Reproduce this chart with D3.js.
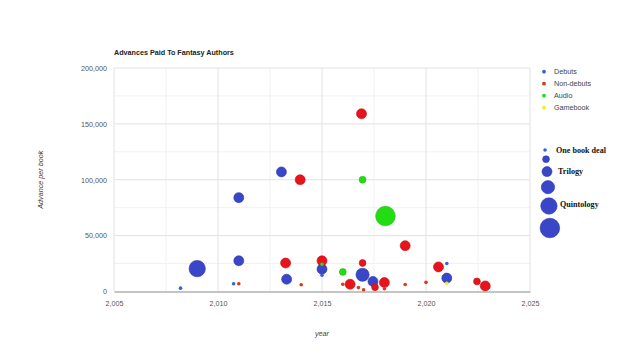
<!DOCTYPE html>
<html><head><meta charset="utf-8">
<script src="https://cdn.jsdelivr.net/npm/d3@7/dist/d3.min.js"></script>
<style>html,body{margin:0;padding:0;background:#fff;}svg{display:block;font-family:"Liberation Sans",Arial,sans-serif;}</style>
</head><body>
<svg id="c" width="640" height="358"></svg>
<script>
// ---- data ----
const seriesNames = ["Debuts", "Non-debuts", "Audio", "Gamebook"];
// each point: [year, advance per book, books in deal]
const debuts = [
  [2008.2, 3000, 1], [2009.0, 20500, 5], [2010.75, 7000, 1], [2011.0, 27500, 3],
  [2011.0, 84000, 3], [2013.05, 107000, 3], [2013.3, 11000, 3], [2015.0, 20000, 3],
  [2015.0, 14500, 1], [2016.95, 15000, 4], [2017.45, 9000, 3], [2021.0, 25000, 1],
  [2021.0, 12000, 3]
];
const nonDebuts = [
  [2011.0, 7000, 1], [2013.25, 25500, 3], [2013.95, 100000, 3], [2014.0, 6000, 1],
  [2015.0, 27500, 3], [2016.0, 6500, 1], [2016.35, 6500, 3], [2016.75, 3500, 1],
  [2016.9, 159000, 3], [2016.95, 25500, 2], [2017.0, 1600, 1], [2017.55, 3800, 2],
  [2018.0, 8000, 3], [2018.0, 2500, 1], [2019.0, 41000, 3], [2019.0, 6300, 1],
  [2020.0, 8200, 1], [2020.6, 22000, 3], [2022.45, 9000, 2], [2022.85, 5000, 3]
];
const audio = [
  [2015.0, 24300, 1], [2016.0, 17500, 2], [2016.95, 100000, 2], [2018.05, 67500, 6]
];
const gamebook = [
  [2021.0, 7300, 1]
];
const xTicks = [2005, 2010, 2015, 2020, 2025];
const yTicks = [0, 50000, 100000, 150000, 200000];
const sizeLegendBooks = [1, 2, 3, 4, 5, 6];
const sizeLegendLabels = {1: "One book deal", 3: "Trilogy", 5: "Quintology"};

// ---- styles ----
const dotColors = ["#3366cc", "#dc3912", "#22dd22", "#eeee22"];
const bubbleColors = ["#3a46c8", "#e8131b", "#22dd11", "#eeee22"];
const strokeColors = ["#2c37a8", "#c01015", "#1cb80e", "#cccc10"];

const svg = d3.select("#c");
const W = 640, H = 358;
const m = {left: 114, right: 110, top: 68, bottom: 66.5};
const x = d3.scaleLinear().domain([2005, 2025]).range([m.left, W - m.right]);
const y = d3.scaleLinear().domain([0, 200000]).range([H - m.bottom, m.top]);
const r = d3.scaleLinear().domain([1, 6]).range([1.8, 9.8]);
const fmt = d3.format(",");

// gridlines (minor then major)
const g = svg.append("g");
const minorX = d3.range(2005, 2025.1, 2.5).filter(v => v % 5 !== 0);
const minorY = d3.range(0, 200001, 25000).filter(v => v % 50000 !== 0);
g.selectAll(".mx").data(minorX).join("line")
  .attr("x1", d => x(d)).attr("x2", d => x(d)).attr("y1", y(0)).attr("y2", y(200000))
  .attr("stroke", "#f1f1f1").attr("stroke-width", 1);
g.selectAll(".my").data(minorY).join("line")
  .attr("x1", x(2005)).attr("x2", x(2025)).attr("y1", d => y(d)).attr("y2", d => y(d))
  .attr("stroke", "#f1f1f1").attr("stroke-width", 1);
g.selectAll(".Mx").data(xTicks).join("line")
  .attr("x1", d => x(d)).attr("x2", d => x(d)).attr("y1", y(0)).attr("y2", y(200000))
  .attr("stroke", "#e2e2e2").attr("stroke-width", 1);
g.selectAll(".My").data(yTicks.filter(v => v > 0)).join("line")
  .attr("x1", x(2005)).attr("x2", x(2025)).attr("y1", d => y(d)).attr("y2", d => y(d))
  .attr("stroke", "#e2e2e2").attr("stroke-width", 1);

// axes via d3 axis generators, styled minimal
const xAxis = svg.append("g").attr("transform", `translate(0,${y(0)})`)
  .call(d3.axisBottom(x).tickValues(xTicks).tickFormat(fmt).tickSize(0).tickPadding(9));
xAxis.select(".domain").attr("stroke", "#8a8a8a").attr("stroke-width", 1.2);
xAxis.selectAll("text").attr("fill", "#555").style("font-size", "7.2px").style("font-family", "Liberation Sans, Arial, sans-serif");

const yAxis = svg.append("g").attr("transform", `translate(${m.left},0)`)
  .call(d3.axisLeft(y).tickValues(yTicks).tickFormat(fmt).tickSize(0).tickPadding(7));
yAxis.select(".domain").remove();
yAxis.selectAll("text").attr("fill", "#555").style("font-size", "7.2px").style("font-family", "Liberation Sans, Arial, sans-serif");

// title
svg.append("text").attr("x", m.left).attr("y", 54.5)
  .attr("font-size", "7.2px").attr("font-weight", "bold").attr("fill", "#222")
  .text("Advances Paid To Fantasy Authors");

// axis titles
svg.append("text").attr("x", (x(2005) + x(2025)) / 2).attr("y", 335.5)
  .attr("text-anchor", "middle").attr("font-size", "7.2px").attr("font-style", "italic").attr("fill", "#444")
  .text("year");
svg.append("text").attr("transform", `translate(42.5,${(y(0) + y(200000)) / 2}) rotate(-90)`)
  .attr("text-anchor", "middle").attr("font-size", "7.2px").attr("font-style", "italic").attr("fill", "#444")
  .text("Advance per book");

// bubbles (bigger drawn first)
const all = [];
[debuts, nonDebuts, audio, gamebook].forEach((arr, si) => arr.forEach(p => all.push({s: si, year: p[0], adv: p[1], books: p[2]})));
all.sort((a, b) => b.books - a.books);
svg.append("g").selectAll("circle").data(all).join("circle")
  .attr("cx", d => x(d.year)).attr("cy", d => y(d.adv)).attr("r", d => r(d.books))
  .attr("fill", d => d.books === 1 ? dotColors[d.s] : bubbleColors[d.s])
  .attr("stroke", d => d.books === 1 ? "none" : strokeColors[d.s])
  .attr("stroke-width", 0.6);

// series legend
const lg = svg.append("g");
seriesNames.forEach((name, i) => {
  const yy = 71.7 + i * 12;
  lg.append("circle").attr("cx", 544).attr("cy", yy).attr("r", 1.9).attr("fill", dotColors[i]);
  lg.append("text").attr("x", 554).attr("y", yy).attr("dy", "0.35em")
    .attr("font-size", "7.2px").attr("fill", "#444").text(name);
});

// size legend
let cy = 150, prevR = null;
const sg = svg.append("g");
sizeLegendBooks.forEach((b, i) => {
  const rr = r(b);
  if (prevR !== null) cy += prevR + rr + 4;
  prevR = rr;
  const cx = 544 + 0.6 * rr;
  sg.append("circle").attr("cx", cx).attr("cy", cy).attr("r", rr)
    .attr("fill", b === 1 ? "#3366cc" : bubbleColors[0]).attr("stroke", b === 1 ? "none" : strokeColors[0]).attr("stroke-width", 0.6);
  if (sizeLegendLabels[b]) {
    sg.append("text").attr("x", 555 + b).attr("y", cy - (b === 5 ? 1.7 : 0)).attr("dy", "0.35em")
      .attr("font-family", "Liberation Serif, Times New Roman, serif").attr("font-weight", "bold")
      .attr("font-size", "8.1px").attr("fill", "#111").text(sizeLegendLabels[b]);
  }
});
</script>
</body></html>
